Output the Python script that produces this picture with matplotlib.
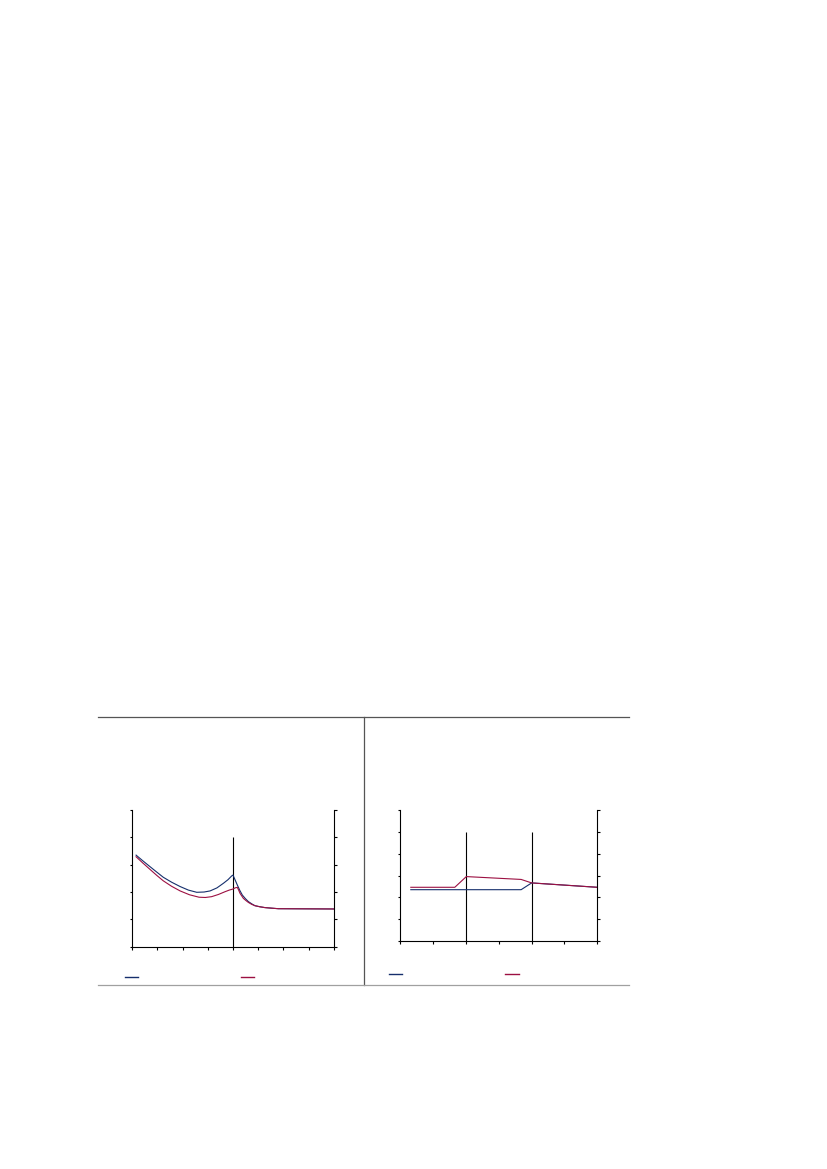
import matplotlib
matplotlib.use("Agg")
import matplotlib.pyplot as plt
from matplotlib.lines import Line2D

# left panel: two curves with a kink at x = 4
left_blue_x = [0.15, 0.42, 0.70, 0.97, 1.23, 1.56, 1.90, 2.23, 2.56, 2.85, 3.09,
               3.36, 3.62, 3.80, 3.95, 4.00, 4.08, 4.17, 4.27, 4.37, 4.49, 4.61,
               4.74, 4.87, 5.07, 5.27, 5.53, 5.80, 8.00]
left_blue_y = [3.35, 3.14, 2.93, 2.73, 2.54, 2.36, 2.20, 2.07, 1.99, 2.00, 2.04,
               2.15, 2.32, 2.45, 2.59, 2.62, 2.45, 2.26, 2.06, 1.89, 1.76, 1.65,
               1.57, 1.50, 1.46, 1.43, 1.41, 1.39, 1.38]
left_red_x = [0.15, 0.42, 0.70, 0.97, 1.23, 1.56, 1.90, 2.27, 2.65, 2.90, 3.15,
              3.42, 3.68, 3.85, 4.00, 4.08, 4.17, 4.22, 4.28, 4.41, 4.51, 4.61,
              4.74, 4.87, 5.07, 5.27, 5.53, 5.80, 8.00]
left_red_y = [3.29, 3.06, 2.83, 2.61, 2.41, 2.21, 2.04, 1.90, 1.81, 1.80, 1.83,
              1.91, 2.01, 2.07, 2.11, 2.15, 2.17, 2.08, 1.95, 1.77, 1.69, 1.62,
              1.55, 1.50, 1.46, 1.43, 1.41, 1.39, 1.38]

# right panel: piecewise lines
right_blue_x = [0.32, 3.68, 4.00, 6.00]
right_blue_y = [2.35, 2.35, 2.66, 2.46]
right_red_x = [0.32, 1.66, 2.01, 3.68, 4.00, 6.00]
right_red_y = [2.46, 2.46, 2.95, 2.82, 2.66, 2.46]

BLUE = "#162f6c"
RED = "#9c1042"

W, H = 827, 1169
fig = plt.figure(figsize=(W / 100, H / 100), dpi=100)


def px_axes(x0, y0, x1, y1):
    return fig.add_axes([x0 / W, 1 - y1 / H, (x1 - x0) / W, (y1 - y0) / H])


def style(ax, xmax, ymax):
    ax.set_xlim(0, xmax)
    ax.set_ylim(0, ymax)
    ax.set_xticks(range(xmax + 1))
    ax.set_yticks(range(ymax + 1))
    ax.tick_params(which="both", direction="out", length=1.8, width=0.8,
                   labelbottom=False, labelleft=False, labelright=False,
                   right=True, top=False)
    ax.spines["top"].set_visible(False)
    for s in ("left", "right", "bottom"):
        ax.spines[s].set_linewidth(0.8)
    ax.patch.set_alpha(0)


ax1 = px_axes(132.3, 810, 333.7, 946.7)
style(ax1, 8, 5)
ax1.vlines(4, 0, 4, color="black", lw=0.8)
ax1.plot(left_blue_x, left_blue_y, color=BLUE, lw=0.8)
ax1.plot(left_red_x, left_red_y, color=RED, lw=0.8)

ax2 = px_axes(400.3, 810, 597.3, 941)
style(ax2, 6, 6)
ax2.vlines([2, 4], 0, 5, color="black", lw=0.8)
ax2.plot(right_blue_x, right_blue_y, color=BLUE, lw=0.8)
ax2.plot(right_red_x, right_red_y, color=RED, lw=0.8)


def fig_line(xs, ys, color, lw):
    fig.add_artist(Line2D([x / W for x in xs], [1 - y / H for y in ys],
                          color=color, lw=lw, transform=fig.transFigure))


# frame around the two panels
fig_line([98, 629], [717.3, 717.3], "#555555", 0.9)
fig_line([364.3, 364.3], [717.3, 985.3], "#555555", 0.9)
fig_line([98, 629], [985.3, 985.3], "#a0a0a0", 0.9)

# legend keys (no text)
fig_line([125, 138], [976.7, 976.7], BLUE, 1.0)
fig_line([240.7, 254], [976.7, 976.7], RED, 1.0)
fig_line([389, 402], [974.3, 974.3], BLUE, 1.0)
fig_line([505, 518.7], [974.3, 974.3], RED, 1.0)

fig.savefig("out.png", dpi=100)
